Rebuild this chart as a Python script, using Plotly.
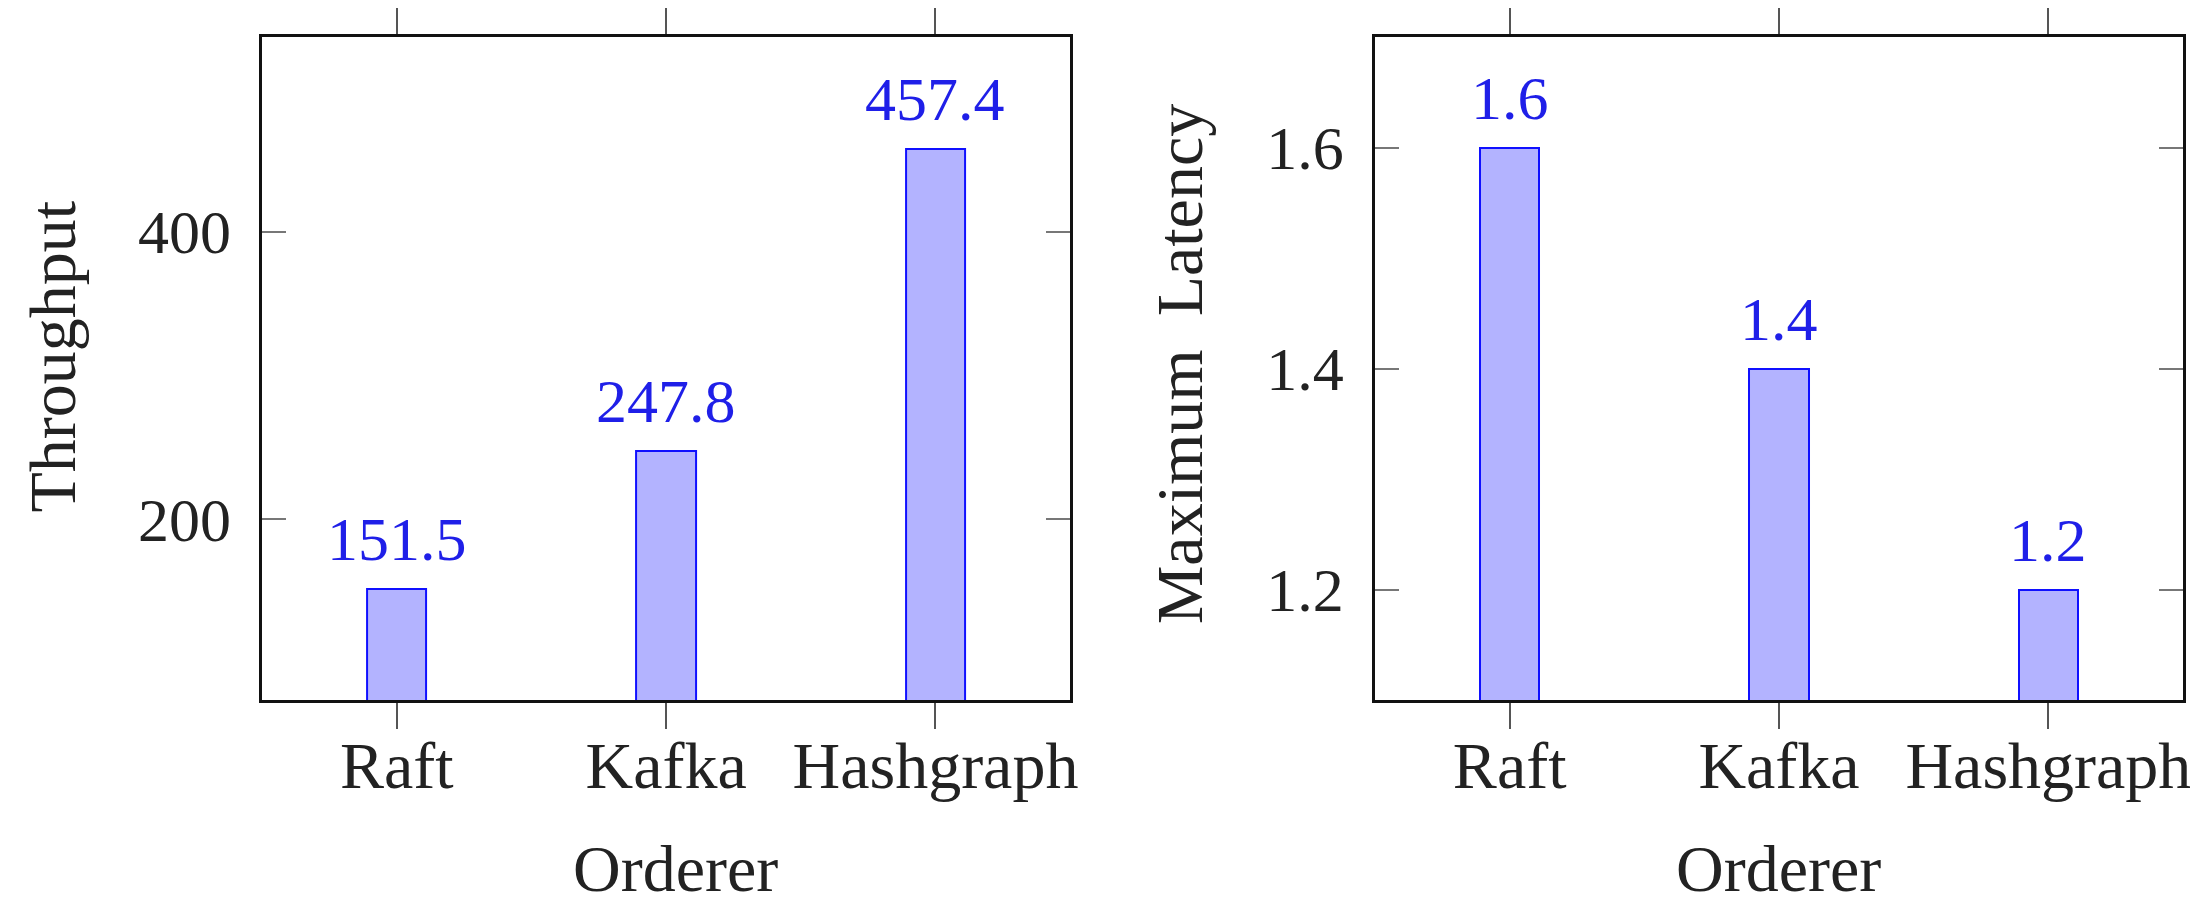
import plotly.graph_objects as go

# ---- data ----
orderers = ["Raft", "Kafka", "Hashgraph"]
throughput = [151.5, 247.8, 457.4]
max_latency = [1.6, 1.4, 1.2]
throughput_ticks = [200, 400]
latency_ticks = [1.2, 1.4, 1.6]

W, H = 2198, 907
FONT = "Liberation Serif"
FS_TXT = 66
FS_NUM = 62
BLUE_TXT = "#1f1fe8"
FILL = "#b3b3ff"
EDGE = "#1010ff"
DARK = "#222"


def fx(p):
    return p / W


def fy(p):
    return 1 - p / H


fig = go.Figure()
fig.add_trace(go.Bar(x=orderers, y=throughput, width=0.22,
                     marker=dict(color=FILL, line=dict(color=EDGE, width=2)),
                     xaxis="x", yaxis="y", showlegend=False, hoverinfo="x+y"))
fig.add_trace(go.Bar(x=orderers, y=max_latency, width=0.22,
                     marker=dict(color=FILL, line=dict(color=EDGE, width=2)),
                     xaxis="x2", yaxis="y2", showlegend=False, hoverinfo="x+y"))

annotations = []
for c, v in zip(orderers, throughput):
    annotations.append(dict(x=c, y=v, xref="x", yref="y", text=f"{v:.1f}",
                            showarrow=False, yanchor="bottom", yshift=14,
                            font=dict(family=FONT, size=FS_NUM, color=BLUE_TXT)))
for c, v in zip(orderers, max_latency):
    annotations.append(dict(x=c, y=v, xref="x2", yref="y2", text=f"{v:.1f}",
                            showarrow=False, yanchor="bottom", yshift=14,
                            font=dict(family=FONT, size=FS_NUM, color=BLUE_TXT)))

# axis titles
annotations.append(dict(x=fx(45), y=fy(348), xref="paper", yref="paper", text="Throughput",
                        textangle=-90, showarrow=False, xanchor="center", yanchor="middle",
                        font=dict(family=FONT, size=FS_TXT, color=DARK)))
annotations.append(dict(x=fx(1176), y=fy(355), xref="paper", yref="paper",
                        text="Maximum&nbsp;&nbsp;Latency",
                        textangle=-90, showarrow=False, xanchor="center", yanchor="middle",
                        font=dict(family=FONT, size=FS_TXT, color=DARK)))
annotations.append(dict(x=fx(670), y=fy(860), xref="paper", yref="paper", text="Orderer",
                        showarrow=False, xanchor="center", yanchor="middle",
                        font=dict(family=FONT, size=FS_TXT, color=DARK)))
annotations.append(dict(x=fx(1777), y=fy(860), xref="paper", yref="paper", text="Orderer",
                        showarrow=False, xanchor="center", yanchor="middle",
                        font=dict(family=FONT, size=FS_TXT, color=DARK)))

xcommon = dict(type="category", range=[-0.5, 2.5], showline=True, mirror="ticks",
               linecolor="#111", linewidth=2.5, ticks="outside", ticklen=26, tickwidth=1.5,
               tickcolor="#555", showgrid=False, zeroline=False,
               tickfont=dict(family=FONT, size=FS_TXT, color=DARK), ticklabelstandoff=-20,
               fixedrange=True)
ycommon = dict(showline=True, mirror="ticks", linecolor="#111", linewidth=2.5,
               ticks="inside", ticklen=24, tickwidth=1.5, tickcolor="#777",
               showgrid=False, zeroline=False,
               tickfont=dict(family=FONT, size=FS_NUM, color=DARK), ticklabelstandoff=16,
               fixedrange=True)

fig.update_layout(
    width=W, height=H,
    margin=dict(l=0, r=0, t=0, b=0),
    paper_bgcolor="white", plot_bgcolor="white",
    xaxis=dict(xcommon, domain=[fx(255), fx(1066)], anchor="y"),
    yaxis=dict(ycommon, domain=[fy(692), fy(28)], range=[74.4, 535.3], anchor="x",
               tickvals=throughput_ticks, ticktext=[str(t) for t in throughput_ticks]),
    xaxis2=dict(xcommon, domain=[fx(1372), fx(2183)], anchor="y2"),
    yaxis2=dict(ycommon, domain=[fy(692), fy(28)], range=[1.1, 1.7], anchor="x2",
                tickvals=latency_ticks, ticktext=[f"{t:.1f}" for t in latency_ticks]),
    annotations=annotations,
    bargap=0,
)

fig.write_html("out.html")
